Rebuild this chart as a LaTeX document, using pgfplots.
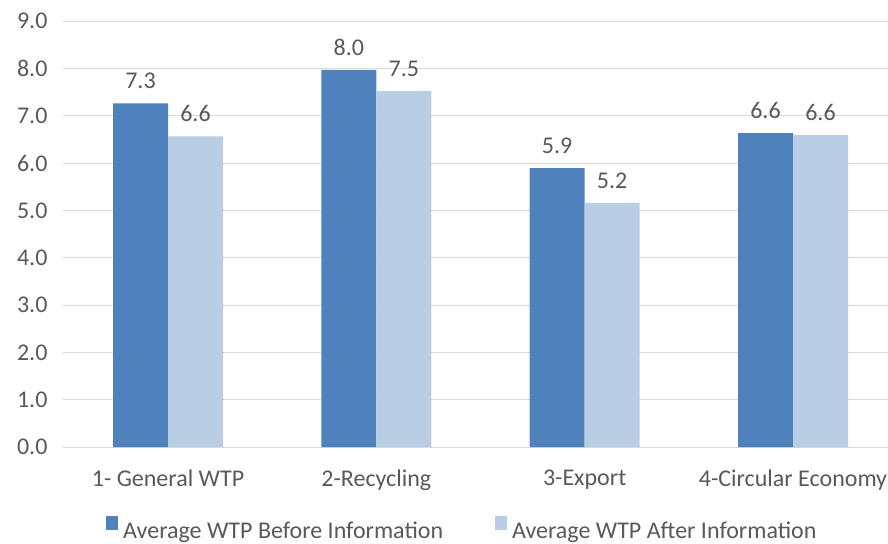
\documentclass[border=0pt]{standalone}
\usepackage{pgfplots}
\pgfplotsset{compat=1.18}
\usepackage{fontspec}
\setmainfont{Carlito}
\definecolor{darkb}{HTML}{4F81BD}
\definecolor{lightb}{HTML}{B9CDE5}
\definecolor{txt}{HTML}{595959}
\definecolor{gridc}{HTML}{D9D9D9}
\newcommand{\cf}{\fontsize{24}{28}\selectfont}
\begin{document}
\begin{tikzpicture}
\begin{axis}[
 name=ax,
 at={(0,0)}, anchor=south west,
 scale only axis, width=825pt, height=426pt,
 ybar=0pt, bar width=55pt,
 xmin=-0.504, xmax=3.456, ymin=0, ymax=9,
 ytick={0,1,...,9},
 xtick={0,1,2,3},
 xticklabels={1- General WTP, 2-Recycling, 3-Export, 4-Circular Economy},
 major tick length=0pt,
 ymajorgrids, grid style={gridc, line width=0.8pt},
 axis line style={draw=none},
 tick label style={font=\cf, text=txt},
 /pgf/number format/assume math mode=true,
 yticklabel={\pgfmathprintnumber[fixed,fixed zerofill,precision=1]{\tick}},
 yticklabel style={xshift=-12pt},
 xticklabel style={yshift=-19pt},
 nodes near coords={\pgfmathprintnumber[fixed,fixed zerofill,precision=1]{\pgfplotspointmeta}},
 nodes near coords style={font=\cf, text=txt, yshift=11pt},
 legend columns=2,
 legend style={at={(0.484,-0.1925)}, anchor=center, draw=none, font=\cf, text=txt,
   /tikz/every odd column/.append style={column sep=3pt},
   /tikz/every even column/.append style={column sep=50pt}},
 legend image code/.code={\fill[#1] (0pt,0pt) rectangle (12pt,14pt);},
]
\addplot[fill=darkb, draw=none] coordinates {(0,7.26) (1,7.97) (2,5.89) (3,6.63)};
\addplot[fill=lightb, draw=none] coordinates {(0,6.56) (1,7.52) (2,5.16) (3,6.59)};
\legend{Average WTP Before Information, Average WTP After Information}
\end{axis}
\pgfresetboundingbox
\path[use as bounding box] ([shift={(-63pt,-96pt)}]ax.south west) rectangle ([shift={(0pt,21pt)}]ax.north east);
\end{tikzpicture}
\end{document}
